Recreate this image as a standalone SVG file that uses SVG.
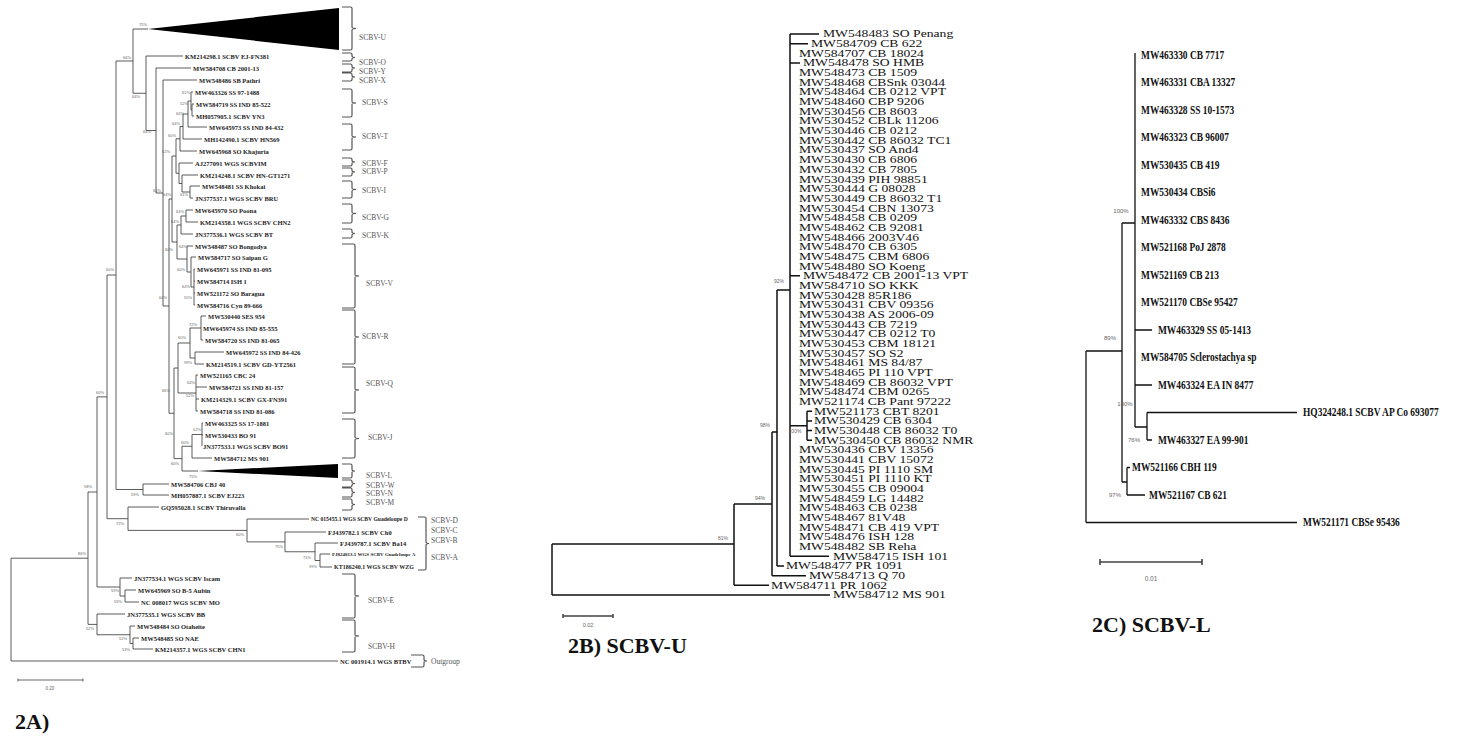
<svg xmlns="http://www.w3.org/2000/svg" width="1459" height="736" viewBox="0 0 1459 736">
<style>
.t2a text{font:bold 6.5px "Liberation Serif",serif;fill:#222;dominant-baseline:central}
.cl text{font:7.5px "Liberation Serif",serif;fill:#555;dominant-baseline:central}
.bs text{font:4px "Liberation Sans",sans-serif;fill:#666;text-anchor:middle}
.bs5 text{font:5px "Liberation Sans",sans-serif;fill:#666;text-anchor:middle}
.bs6 text{font:6px "Liberation Sans",sans-serif;fill:#666;text-anchor:middle}
.br{fill:none;stroke:#555;stroke-width:1.2}
.e2a{fill:none;stroke:#333;stroke-width:0.8}
.t2b text{font:10.5px "Liberation Serif",serif;fill:#111;dominant-baseline:central}
.e2b{fill:none;stroke:#111;stroke-width:1.5}
.t2c text{font:bold 11.5px "Liberation Serif",serif;fill:#111;dominant-baseline:central}
.e2c{fill:none;stroke:#111;stroke-width:1.3}
.ttl{font:bold 22px "Liberation Serif",serif;fill:#111}
.sc{fill:none;stroke:#444}
</style>
<rect width="1459" height="736" fill="#fff"/>

<!-- PANEL 2A -->
<g id="panel-2A">
<g id="connectors-2A">
<path class="e2a" d="M11,558.2V661M11,558.2H88M11,661H338
M88,492V624.4M88,492H97M88,624.4H97
M97,396.9V587M97,396.9H107M97,587H120
M97,614V634.75M97,614H125M97,634.75H130
M130,626V643.5M130,626H135M130,643.5H133
M133,638V649M133,638H139M133,649H153
M120,578V596M120,578H132M120,596H125
M125,590V602M125,590H136M125,602H139
M107,275V518.7M107,275H116M107,518.7H128
M128,507V530.4M128,507H159M128,530.4H247
M247,519V541.9M247,519H309M247,541.9H285
M285,532V551.75M285,532H326M285,551.75H315
M315,543V560.5M315,543H338M315,560.5H320
M320,554V567M320,554H330M320,567H332
M116,61V489.5M116,61H133M116,489.5H143
M143,484V495M143,484H169M143,495H169
M133,29V93.25M133,29H148M133,93.25H146
M146,56V130.5M146,56H183M146,130.5H156
M156,68V193M156,68H191M156,193H163
M163,80V306M163,80H197M163,306H169
M169,199V413.3M169,199H172M169,413.3H174
M172,156V242M172,156H176M172,242H177
M176,138.75V173.25M176,138.75H180M176,173.25H179
M180,126.5V151M180,126.5H183M180,151H197
M183,114V139M183,114H188M183,139H202
M188,101V127M188,101H191M188,127H207
M191,92V110M191,92H193M191,110H192
M192,104V116M192,104H194M192,116H194
M179,163V183.5M179,163H193M179,183.5H182
M182,175V192M182,175H198M182,192H190
M190,186V198M190,186H200M190,198H193
M177,225V259M177,225H181M177,259H187
M181,216V234M181,216H186M181,234H193
M186,210V222M186,210H193M186,222H198
M187,246V272M187,246H193M187,272H191
M191,257V287M191,257H196M191,287H194
M194,269V305M194,269H195M194,281H195M194,293H195M194,305H195
M174,368V458.6M174,368H178M174,458.6H182
M178,343V393M178,343H190M178,393H196
M190,328V358M190,328H201M190,358H195
M201,316V340M201,316H206M201,340H203
M195,352V364M195,352H224M195,364H204
M196,375V411M196,375H198M196,387H207M196,399H199M196,411H198
M182,446.25V471M182,446.25H192M182,471H198
M192,434.5V458M192,434.5H202M192,458H212
M202,423V446M202,423H203M202,435H203"/>
<polygon id="collapsed-SCBV-U" points="148,29 339,8 339,50" fill="#000"/>
<polygon id="collapsed-SCBV-L" points="198,471 338,464 338,478" fill="#000"/>
</g>
<g id="tips-2A" class="t2a">
<text x="185" y="56">KM214298.1 SCBV EJ-FN381</text>
<text x="193" y="68">MW584708 CB 2001-13</text>
<text x="199" y="80">MW548486 SB Pathri</text>
<text x="195" y="92">MW463326 SS 97-1488</text>
<text x="196" y="104">MW584719 SS IND 85-522</text>
<text x="196" y="116">MH057905.1 SCBV YN3</text>
<text x="209" y="127">MW645973 SS IND 84-432</text>
<text x="204" y="139">MH142490.1 SCBV HN569</text>
<text x="199" y="151">MW645968 SO Khajuria</text>
<text x="195" y="163">AJ277091 WGS SCBVIM</text>
<text x="200" y="175">KM214248.1 SCBV HN-GT1271</text>
<text x="202" y="186">MW548481 SS Khokai</text>
<text x="195" y="198">JN377537.1 WGS SCBV BRU</text>
<text x="195" y="210">MW645970 SO Poona</text>
<text x="200" y="222">KM214358.1 WGS SCBV CHN2</text>
<text x="195" y="234">JN377536.1 WGS SCBV BT</text>
<text x="195" y="246">MW548487 SO Bongodya</text>
<text x="198" y="257">MW584717 SO Saipan G</text>
<text x="197" y="269">MW645971 SS IND 81-095</text>
<text x="197" y="281">MW584714 ISH 1</text>
<text x="197" y="293">MW521172 SO Baragua</text>
<text x="197" y="305">MW584716 Cyn 89-666</text>
<text x="208" y="316">MW530440 SES 954</text>
<text x="203" y="328">MW645974 SS IND 85-555</text>
<text x="205" y="340">MW584720 SS IND 81-065</text>
<text x="226" y="352">MW645972 SS IND 84-426</text>
<text x="206" y="364">KM214519.1 SCBV GD-YT2561</text>
<text x="200" y="375">MW521165 CBC 24</text>
<text x="209" y="387">MW584721 SS IND 81-157</text>
<text x="201" y="399">KM214329.1 SCBV GX-FN391</text>
<text x="200" y="411">MW584718 SS IND 81-086</text>
<text x="205" y="423">MW463325 SS 17-1881</text>
<text x="205" y="435">MW530433 BO 91</text>
<text x="203" y="446">JN377533.1 WGS SCBV BO91</text>
<text x="214" y="458">MW584712 MS 901</text>
<text x="171" y="484">MW584706 CBJ 40</text>
<text x="171" y="495">MH057887.1 SCBV EJ223</text>
<text x="161" y="507">GQ595028.1 SCBV Thiruvalla</text>
<text x="311" y="519" style="font-size:5.6px">NC 015455.1 WGS SCBV Guadeloupe D</text>
<text x="328" y="532">FJ439782.1 SCBV Ch0</text>
<text x="340" y="543">FJ439787.1 SCBV Ba14</text>
<text x="332" y="554" style="font-size:5px">FJ824813.1 WGS SCBV Guadeloupe A</text>
<text x="334" y="567" style="font-size:6px">KT186240.1 WGS SCBV WZG</text>
<text x="134" y="578">JN377534.1 WGS SCBV Iscam</text>
<text x="138" y="590">MW645969 SO B-5 Aubin</text>
<text x="141" y="602">NC 008017 WGS SCBV MO</text>
<text x="127" y="614">JN377535.1 WGS SCBV BB</text>
<text x="137" y="626">MW548484 SO Otaheite</text>
<text x="141" y="638">MW548485 SO NAE</text>
<text x="155" y="649">KM214357.1 WGS SCBV CHN1</text>
<text x="340" y="661">NC 001914.1 WGS BTBV</text>
</g>
<g id="support-2A" class="bs">
<text x="143" y="26">75%</text><text x="127" y="59">66%</text><text x="136" y="98">64%</text>
<text x="147" y="133">64%</text><text x="186" y="94">61%</text><text x="184" y="105">52%</text>
<text x="180" y="115">64%</text><text x="176" y="125">64%</text><text x="172" y="137">60%</text>
<text x="166" y="153">62%</text><text x="157" y="192">64%</text><text x="167" y="196">64%</text>
<text x="184" y="196">61%</text><text x="180" y="213">64%</text><text x="175" y="223">64%</text>
<text x="169" y="251">60%</text><text x="183" y="248">64%</text><text x="181" y="271">60%</text>
<text x="186" y="288">64%</text><text x="188" y="299">55%</text><text x="163" y="299">64%</text>
<text x="110" y="271">60%</text><text x="193" y="326">72%</text><text x="182" y="339">60%</text>
<text x="188" y="364">99%</text><text x="191" y="384">64%</text><text x="190" y="397">52%</text>
<text x="166" y="392">66%</text><text x="100" y="394">60%</text><text x="169" y="435">60%</text>
<text x="197" y="431">52%</text><text x="185" y="444">60%</text><text x="175" y="465">60%</text>
<text x="193" y="478">75%</text><text x="88" y="488">58%</text><text x="135" y="496">59%</text>
<text x="120" y="525">72%</text><text x="240" y="536">60%</text><text x="279" y="548">75%</text>
<text x="307" y="559">71%</text><text x="313" y="568">99%</text><text x="82" y="555">86%</text>
<text x="115" y="592">59%</text><text x="118" y="603">59%</text><text x="90" y="630">52%</text>
<text x="123" y="640">52%</text><text x="126" y="651">53%</text>
</g>
<g id="clades-2A">
<path class="br" d="M342,7H350.5Q352,7 352,8.5V27Q352,28.5 356,28.5Q352,28.5 352,30V48.5Q352,50 350.5,50H342
M342,53H350.5Q352,53 352,54.5V56Q352,57.5 355,57.5Q352,57.5 352,59V59.5Q352,61 350.5,61H342
M342,64H350.5Q352,64 352,65.5V66.5Q352,68 355,68Q352,68 352,69.5V70.5Q352,72 350.5,72H342
M342,73H350.5Q352,73 352,74.5V75.5Q352,77 355,77Q352,77 352,78.5V79.5Q352,81 350.5,81H342
M342,89H350.5Q352,89 352,90.5V101.5Q352,103 356,103Q352,103 352,104.5V115.5Q352,117 350.5,117H342
M342,124H350.5Q352,124 352,125.5V135.5Q352,137 356,137Q352,137 352,138.5V148.5Q352,150 350.5,150H342
M342,158H350.5Q352,158 352,159.5V160.5Q352,162 355,162Q352,162 352,163.5V164.5Q352,166 350.5,166H342
M342,168H350.5Q352,168 352,169.5V170.5Q352,172 355,172Q352,172 352,173.5V174.5Q352,176 350.5,176H342
M342,181H350.5Q352,181 352,182.5V188Q352,189.5 356,189.5Q352,189.5 352,191V196.5Q352,198 350.5,198H342
M342,204H350.5Q352,204 352,205.5V212Q352,213.5 356,213.5Q352,213.5 352,215V221.5Q352,223 350.5,223H342
M342,229H350.5Q352,229 352,230.5V232Q352,233.5 355,233.5Q352,233.5 352,235V236.5Q352,238 350.5,238H342
M342,244H353.5Q355,244 355,245.5V274.5Q355,276 359,276Q355,276 355,277.5V306.5Q355,308 353.5,308H342
M342,310H353.5Q355,310 355,311.5V335.5Q355,337 359,337Q355,337 355,338.5V362.5Q355,364 353.5,364H342
M342,367H353.5Q355,367 355,368.5V388.5Q355,390 359,390Q355,390 355,391.5V411.5Q355,413 353.5,413H342
M342,419H353.5Q355,419 355,420.5V437Q355,438.5 359,438.5Q355,438.5 355,440V456.5Q355,458 353.5,458H342
M342,464H350.5Q352,464 352,465.5V469.5Q352,471 355,471Q352,471 352,472.5V476.5Q352,478 350.5,478H342
M342,480H350.5Q352,480 352,481.5V482Q352,483.5 355,483.5Q352,483.5 352,485V485.5Q352,487 350.5,487H342
M342,488H350.5Q352,488 352,489.5V491Q352,492.5 355,492.5Q352,492.5 352,494V495.5Q352,497 350.5,497H342
M342,499H350.5Q352,499 352,500.5V503Q352,504.5 355,504.5Q352,504.5 352,506V508.5Q352,510 350.5,510H342
M418,517H424.5Q426,517 426,518.5V542Q426,543.5 429,543.5Q426,543.5 426,545V568.5Q426,570 424.5,570H418
M342,574H353.5Q355,574 355,575.5V594.5Q355,596 359,596Q355,596 355,597.5V616.5Q355,618 353.5,618H342
M342,620H353.5Q355,620 355,621.5V634.5Q355,636 359,636Q355,636 355,637.5V650.5Q355,652 353.5,652H342
M411,655H422.5Q424,655 424,656.5V659.5Q424,661 427,661Q424,661 424,662.5V665.5Q424,667 422.5,667H411"/>
<g class="cl">
<text x="359" y="37">SCBV-U</text><text x="359" y="62">SCBV-O</text><text x="359" y="71">SCBV-Y</text>
<text x="359" y="80">SCBV-X</text><text x="362" y="102">SCBV-S</text><text x="362" y="136">SCBV-T</text>
<text x="362" y="163">SCBV-F</text><text x="362" y="171">SCBV-P</text><text x="362" y="190">SCBV-I</text>
<text x="362" y="217">SCBV-G</text><text x="362" y="235">SCBV-K</text><text x="366" y="283">SCBV-V</text>
<text x="362" y="336">SCBV-R</text><text x="366" y="383">SCBV-Q</text><text x="368" y="437">SCBV-J</text>
<text x="366" y="475">SCBV-L</text><text x="366" y="485">SCBV-W</text><text x="366" y="493">SCBV-N</text>
<text x="366" y="502">SCBV-M</text><text x="431" y="520">SCBV-D</text><text x="431" y="530">SCBV-C</text>
<text x="431" y="540">SCBV-B</text><text x="431" y="557">SCBV-A</text><text x="368" y="600">SCBV-E</text>
<text x="368" y="646">SCBV-H</text><text x="431" y="661">Outgroup</text>
</g>
</g>
<g id="scale-2A">
<path class="sc" stroke-width="0.8" d="M18,680H83M18,678.5V681.5M83,678.5V681.5"/>
<text x="50" y="690" font-family="Liberation Sans, sans-serif" font-size="4.5" fill="#666" text-anchor="middle">0.20</text>
</g>
<text class="ttl" x="15" y="729" font-size="20">2A)</text>
</g>

<!-- PANEL 2B -->
<g id="panel-2B">
<g id="connectors-2B">
<path class="e2b" stroke-width="2" d="M790,34V556.29"/>
<path class="e2b" d="M790,34H819M790,43.67H808M790,63.02H800M790,275.8H800M790,556.29H829
M790,425.7H807M807,411.21V440.22M807,411.21H812M807,420.88H812M807,430.55H812M807,440.22H812
M777,290V565.96M777,290H790M777,565.96H784
M772,432V575.63M772,432H777M772,575.63H806
M734,504V585.3M734,504H772M734,585.3H769
M552,544V594.98M552,544H734M552,594.98H830"/>
</g>
<g id="tips-2B" class="t2b" transform="translate(799 0) scale(1.3 1)">
<text x="18.46" y="34">MW548483 SO Penang</text>
<text x="9.23" y="43.67">MW584709 CB 622</text>
<text x="0" y="53.34">MW584707 CB 18024</text>
<text x="3.08" y="63.02">MW548478 SO HMB</text>
<text x="0" y="72.69">MW548473 CB 1509</text>
<text x="0" y="82.36">MW548468 CBSnk 03044</text>
<text x="0" y="92.03">MW548464 CB 0212 VPT</text>
<text x="0" y="101.7">MW548460 CBP 9206</text>
<text x="0" y="111.38">MW530456 CB 8603</text>
<text x="0" y="121.05">MW530452 CBLk 11206</text>
<text x="0" y="130.72">MW530446 CB 0212</text>
<text x="0" y="140.39">MW530442 CB 86032 TC1</text>
<text x="0" y="150.06">MW530437 SO And4</text>
<text x="0" y="159.74">MW530430 CB 6806</text>
<text x="0" y="169.41">MW530432 CB 7805</text>
<text x="0" y="179.08">MW530439 PIH 98851</text>
<text x="0" y="188.75">MW530444 G 08028</text>
<text x="0" y="198.42">MW530449 CB 86032 T1</text>
<text x="0" y="208.1">MW530454 CBN 13073</text>
<text x="0" y="217.77">MW548458 CB 0209</text>
<text x="0" y="227.44">MW548462 CB 92081</text>
<text x="0" y="237.11">MW548466 2003V46</text>
<text x="0" y="246.78">MW548470 CB 6305</text>
<text x="0" y="256.46">MW548475 CBM 6806</text>
<text x="0" y="266.13">MW548480 SO Koeng</text>
<text x="3.08" y="275.8">MW548472 CB 2001-13 VPT</text>
<text x="0" y="285.47">MW584710 SO KKK</text>
<text x="0" y="295.14">MW530428 85R186</text>
<text x="0" y="304.82">MW530431 CBV 09356</text>
<text x="0" y="314.49">MW530438 AS 2006-09</text>
<text x="0" y="324.16">MW530443 CB 7219</text>
<text x="0" y="333.83">MW530447 CB 0212 T0</text>
<text x="0" y="343.5">MW530453 CBM 18121</text>
<text x="0" y="353.18">MW530457 SO S2</text>
<text x="0" y="362.85">MW548461 MS 84/87</text>
<text x="0" y="372.52">MW548465 PI 110 VPT</text>
<text x="0" y="382.19">MW548469 CB 86032 VPT</text>
<text x="0" y="391.86">MW548474 CBM 0265</text>
<text x="0" y="401.54">MW521174 CB Pant 97222</text>
<text x="11.54" y="411.21">MW521173 CBT 8201</text>
<text x="11.54" y="420.88">MW530429 CB 6304</text>
<text x="11.54" y="430.55">MW530448 CB 86032 T0</text>
<text x="11.54" y="440.22">MW530450 CB 86032 NMR</text>
<text x="0" y="449.9">MW530436 CBV 13356</text>
<text x="0" y="459.57">MW530441 CBV 15072</text>
<text x="0" y="469.24">MW530445 PI 1110 SM</text>
<text x="0" y="478.91">MW530451 PI 1110 KT</text>
<text x="0" y="488.58">MW530455 CB 09004</text>
<text x="0" y="498.26">MW548459 LG 14482</text>
<text x="0" y="507.93">MW548463 CB 0238</text>
<text x="0" y="517.6">MW548467 81V48</text>
<text x="0" y="527.27">MW548471 CB 419 VPT</text>
<text x="0" y="536.94">MW548476 ISH 128</text>
<text x="0" y="546.62">MW548482 SB Reha</text>
<text x="26.15" y="556.29">MW584715 ISH 101</text>
<text x="-10" y="565.96">MW548477 PR 1091</text>
<text x="7.69" y="575.63">MW584713 Q 70</text>
<text x="-21.54" y="585.3">MW584711 PR 1062</text>
<text x="26.15" y="594.98">MW584712 MS 901</text>
</g>
<g id="support-2B" class="bs5">
<text x="779" y="283">92%</text><text x="765" y="427">98%</text><text x="760" y="500">94%</text>
<text x="723" y="540">81%</text><text x="795" y="433">100%</text>
</g>
<g id="scale-2B">
<path class="sc" stroke="#111" stroke-width="1.5" d="M563,616H613M563,614V618M613,614V618"/>
<text x="588" y="627" font-family="Liberation Sans, sans-serif" font-size="5.5" fill="#666" text-anchor="middle">0.02</text>
</g>
<text class="ttl" x="568" y="653">2B) SCBV-U</text>
</g>

<!-- PANEL 2C -->
<g id="panel-2C">
<g id="connectors-2C">
<path class="e2c" d="M1086,351V522.5M1086,351H1122M1086,522.5H1297
M1122,223V482M1122,223H1135M1122,482H1127
M1127,467.5V495M1127,467.5H1130M1127,495H1145
M1135,53V427M1135,330H1152M1135,385H1152M1135,427H1147
M1147,412.5V440M1147,412.5H1297M1147,440H1152"/>
</g>
<g id="tips-2C" class="t2c" transform="translate(1141 0) scale(0.82 1)">
<text x="0" y="55">MW463330 CB 7717</text>
<text x="0" y="82.5">MW463331 CBA 13327</text>
<text x="0" y="110">MW463328 SS 10-1573</text>
<text x="0" y="137.5">MW463323 CB 96007</text>
<text x="0" y="165">MW530435 CB 419</text>
<text x="0" y="192.5">MW530434 CBSi6</text>
<text x="0" y="220">MW463332 CBS 8436</text>
<text x="0" y="247.5">MW521168 PoJ 2878</text>
<text x="0" y="275">MW521169 CB 213</text>
<text x="0" y="302.5">MW521170 CBSe 95427</text>
<text x="20.7" y="330">MW463329 SS 05-1413</text>
<text x="0" y="357.5">MW584705 Sclerostachya sp</text>
<text x="20.7" y="385">MW463324 EA IN 8477</text>
<text x="197.6" y="412.5">HQ324248.1 SCBV AP Co 693077</text>
<text x="20.7" y="440">MW463327 EA 99-901</text>
<text x="-11" y="467.5">MW521166 CBH 119</text>
<text x="9.8" y="495">MW521167 CB 621</text>
<text x="197.6" y="522.5">MW521171 CBSe 95436</text>
</g>
<g id="support-2C" class="bs6">
<text x="1121" y="213">100%</text><text x="1110" y="340">89%</text><text x="1125" y="406">100%</text>
<text x="1134" y="442">76%</text><text x="1115" y="497">97%</text>
</g>
<g id="scale-2C">
<path class="sc" stroke="#111" stroke-width="1.6" d="M1100,562H1202M1100,559V565M1202,559V565"/>
<text x="1151" y="581" font-family="Liberation Sans, sans-serif" font-size="6.5" fill="#666" text-anchor="middle">0.01</text>
</g>
<text class="ttl" x="1092" y="632">2C) SCBV-L</text>
</g>
</svg>
